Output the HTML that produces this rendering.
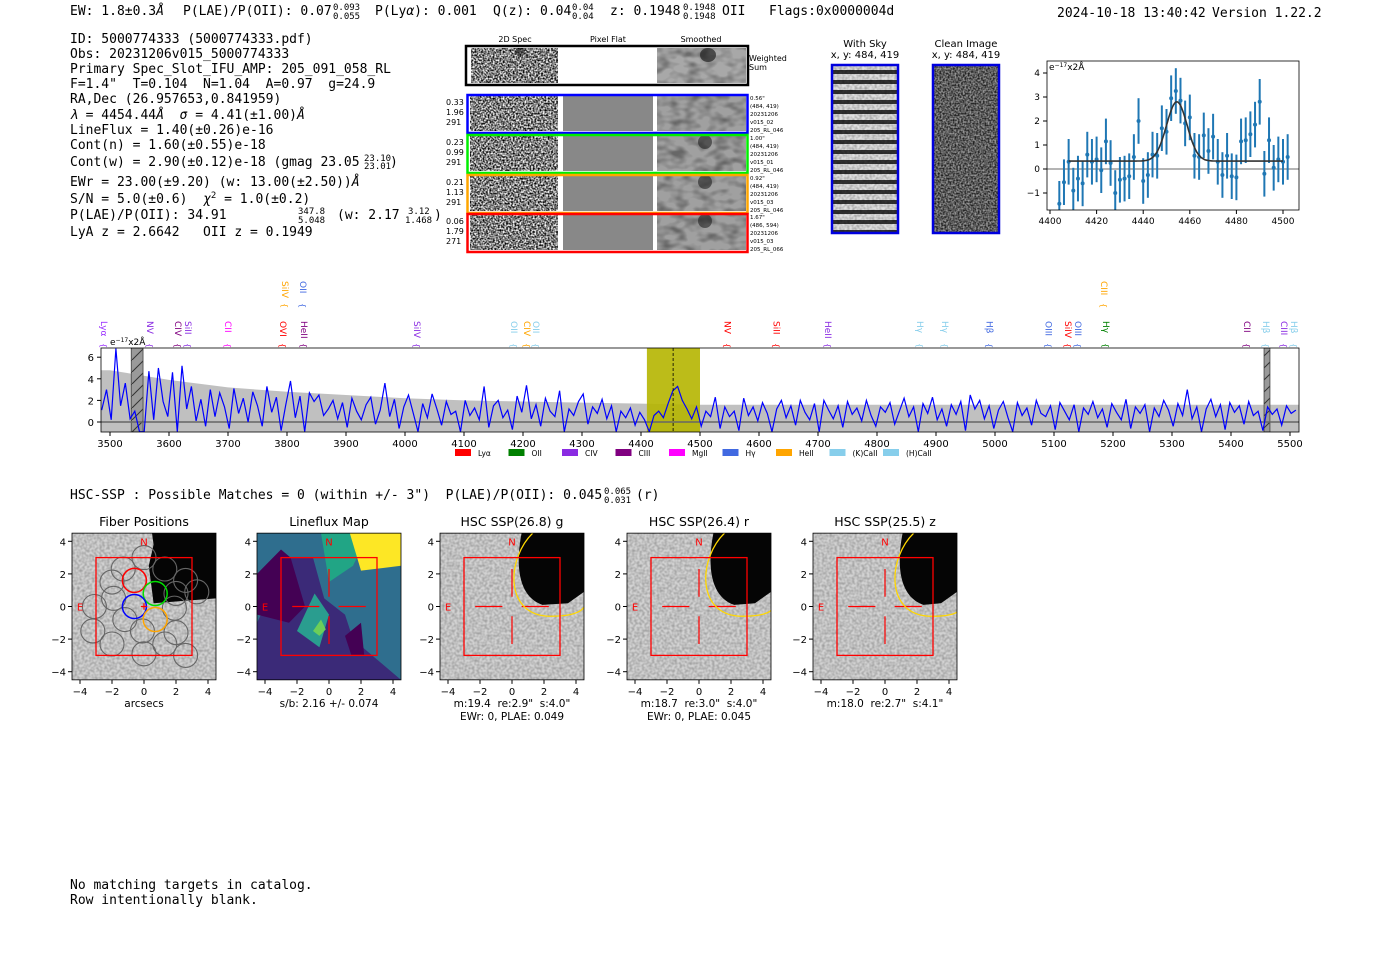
<!DOCTYPE html>
<html><head><meta charset="utf-8"><title>Detection report</title>
<style>
html,body{margin:0;padding:0;background:#fff;}
svg{display:block;}
.m{font-family:"DejaVu Sans Mono","Liberation Mono",monospace;font-size:13px;white-space:pre;}
.s{font-family:"DejaVu Sans","Liberation Sans",sans-serif;white-space:pre;}
</style></head>
<body>
<svg id="root" width="1400" height="953" viewBox="0 0 1400 953" xmlns="http://www.w3.org/2000/svg" xml:space="preserve">
<defs>
 <filter id="noise" x="0" y="0" width="100%" height="100%">
  <feTurbulence type="fractalNoise" baseFrequency="0.6" numOctaves="1" seed="3"/>
  <feColorMatrix type="matrix" values="0 0 0 0 0  0 0 0 0 0  0 0 0 0 0  0 0 0 -2.2 1.6"/>
 </filter>
 <filter id="noiseSoft" x="0" y="0" width="100%" height="100%">
  <feTurbulence type="fractalNoise" baseFrequency="0.07 0.12" numOctaves="2" seed="7"/>
  <feColorMatrix type="matrix" values="0 0 0 0 0  0 0 0 0 0  0 0 0 0 0  0 0 0 -2.5 1.5"/>
 </filter>
 <filter id="noiseLight" x="0" y="0" width="100%" height="100%">
  <feTurbulence type="fractalNoise" baseFrequency="0.4" numOctaves="1" seed="11"/>
  <feColorMatrix type="matrix" values="0 0 0 0 0  0 0 0 0 0  0 0 0 0 0  0 0 0 -1.1 0.75"/>
 </filter>
 <pattern id="hatch" width="12" height="12" patternUnits="userSpaceOnUse">
  <rect width="12" height="12" fill="#9a9a9a"/>
  <line x1="0" y1="12" x2="12" y2="0" stroke="#333" stroke-width="1"/>
 </pattern>
 <pattern id="stripes" width="68" height="10" patternUnits="userSpaceOnUse">
  <rect width="68" height="10" fill="#e0e0e0"/>
  <rect y="0" width="68" height="4" fill="#333"/>
 </pattern>
</defs>

<!-- header -->
<g>
 <text class="m" x="70" y="15">EW: 1.8±0.3<tspan font-style="italic">Å</tspan></text>
 <text class="m" x="183" y="15">P(LAE)/P(OII): 0.07</text>
 <text class="m" x="333" y="10" style="font-size:9px">0.093</text><text class="m" x="333" y="19" style="font-size:9px">0.055</text>
 <text class="m" x="375" y="15">P(Ly<tspan font-style="italic">α</tspan>): 0.001</text>
 <text class="m" x="493" y="15">Q(z): 0.04</text>
 <text class="m" x="572" y="10" style="font-size:9px">0.04</text><text class="m" x="572" y="19" style="font-size:9px">0.04</text>
 <text class="m" x="610" y="15">z: 0.1948</text>
 <text class="m" x="683" y="10" style="font-size:9px">0.1948</text><text class="m" x="683" y="19" style="font-size:9px">0.1948</text>
 <text class="m" x="722" y="15">OII</text>
 <text class="m" x="769" y="15">Flags:0x0000004d</text>
 <text class="m" x="1057" y="17">2024-10-18 13:40:42</text>
 <text class="m" x="1212" y="17">Version 1.22.2</text>
</g>

<!-- info block -->
<g>
 <text class="m" x="70" y="43">ID: 5000774333 (5000774333.pdf)</text>
 <text class="m" x="70" y="58">Obs: 20231206v015_5000774333</text>
 <text class="m" x="70" y="73">Primary Spec_Slot_IFU_AMP: 205_091_058_RL</text>
 <text class="m" x="70" y="88">F=1.4"  T=0.104  N=1.04  A=0.97  g=24.9</text>
 <text class="m" x="70" y="103">RA,Dec (26.957653,0.841959)</text>
 <text class="m" x="70" y="119"><tspan font-style="italic">λ</tspan> = 4454.44<tspan font-style="italic">Å</tspan>  <tspan font-style="italic">σ</tspan> = 4.41(±1.00)<tspan font-style="italic">Å</tspan></text>
 <text class="m" x="70" y="134">LineFlux = 1.40(±0.26)e-16</text>
 <text class="m" x="70" y="149">Cont(n) = 1.60(±0.55)e-18</text>
 <text class="m" x="70" y="166">Cont(w) = 2.90(±0.12)e-18 (gmag 23.05</text>
 <text class="m" x="364" y="161" style="font-size:9px">23.10</text><text class="m" x="364" y="169" style="font-size:9px">23.01</text>
 <text class="m" x="390" y="166">)</text>
 <text class="m" x="70" y="186">EWr = 23.00(±9.20) (w: 13.00(±2.50))<tspan font-style="italic">Å</tspan></text>
 <text class="m" x="70" y="203">S/N = 5.0(±0.6)  <tspan font-style="italic">χ</tspan><tspan style="font-size:9px" dy="-5">2</tspan><tspan dy="5"> = 1.0(±0.2)</tspan></text>
 <text class="m" x="70" y="219">P(LAE)/P(OII): 34.91</text>
 <text class="m" x="298" y="214" style="font-size:9px">347.8</text><text class="m" x="298" y="223" style="font-size:9px">5.048</text>
 <text class="m" x="337" y="219">(w: 2.17</text>
 <text class="m" x="408" y="214" style="font-size:9px">3.12</text><text class="m" x="405" y="223" style="font-size:9px">1.468</text>
 <text class="m" x="434" y="219">)</text>
 <text class="m" x="70" y="236">LyA z = 2.6642   OII z = 0.1949</text>
</g>

<!-- 2D spectra cutouts -->
<g>
 <text class="s" x="515" y="42" font-size="8" text-anchor="middle">2D Spec</text>
 <text class="s" x="608" y="42" font-size="8" text-anchor="middle">Pixel Flat</text>
 <text class="s" x="701" y="42" font-size="8" text-anchor="middle">Smoothed</text>
 <g>
  <rect x="466" y="46" width="282" height="39" fill="#fff" stroke="#000" stroke-width="2.5"/>
  <rect x="471" y="48" width="87" height="35" fill="#888" filter="url(#noise)"/>
  <rect x="657" y="48" width="89" height="35" fill="#a8a8a8"/>
  <rect x="657" y="48" width="89" height="35" fill="#777" filter="url(#noiseSoft)" opacity="0.35"/>
  <ellipse cx="708" cy="55" rx="8" ry="7" fill="#222" opacity="0.7"/>
  <ellipse cx="520" cy="52" rx="5" ry="4" fill="#111" opacity="0.5"/>
  <text class="s" x="749" y="61" font-size="8">Weighted</text><text class="s" x="749" y="70" font-size="8">Sum</text>
 </g>
 <g id="rows"></g>
</g>

<!-- sky cutouts -->
<g>
 <text class="s" x="865" y="47" font-size="10" text-anchor="middle">With Sky</text>
 <text class="s" x="865" y="58" font-size="10" text-anchor="middle">x, y: 484, 419</text>
 <rect x="831" y="64" width="68" height="170" fill="url(#stripes)"/>
 <rect x="831" y="64" width="68" height="170" fill="#777" filter="url(#noiseLight)" opacity="0.5"/>
 <rect x="832" y="65" width="66" height="168" fill="none" stroke="#0000dd" stroke-width="2.5"/>
</g>
<g>
 <text class="s" x="966" y="47" font-size="10" text-anchor="middle">Clean Image</text>
 <text class="s" x="966" y="58" font-size="10" text-anchor="middle">x, y: 484, 419</text>
 <rect x="932" y="64" width="68" height="170" fill="#999"/>
 <rect x="932" y="64" width="68" height="170" fill="#888" filter="url(#noise)" opacity="0.8"/>
 <rect x="933" y="65" width="66" height="168" fill="none" stroke="#0000dd" stroke-width="2.5"/>
</g>

<g id="zoomfit"></g>
<g id="spectrum"></g>

<text class="m" x="70" y="499">HSC-SSP : Possible Matches = 0 (within +/- 3")  P(LAE)/P(OII): 0.045</text>
<text class="m" x="604" y="494" style="font-size:9px">0.065</text><text class="m" x="604" y="503" style="font-size:9px">0.031</text>
<text class="m" x="636" y="499">(r)</text>

<g id="panels"></g>

<g>
 <text class="m" x="70" y="889">No matching targets in catalog.</text>
 <text class="m" x="70" y="904">Row intentionally blank.</text>
</g>
</svg>

<script>
// ===== Line-fit chart data =====
const fitWaves = [4404,4406,4408,4410,4412,4414,4416,4418,4420,4422,4424,4426,4428,4430,4432,4434,4436,4438,4440,4442,4444,4446,4448,4450,4452,4454,4456,4458,4460,4462,4464,4466,4468,4470,4472,4474,4476,4478,4480,4482,4484,4486,4488,4490,4492,4494,4496,4498,4500,4502];
const fitFlux = [-1.45,-0.55,0.3,-0.9,-0.4,-0.6,0.6,0.3,0.4,-0.05,1.15,0.25,-1.0,-0.45,-0.4,-0.3,0.5,2.0,-0.5,-0.25,0.6,0.55,1.7,1.55,2.95,3.25,2.85,1.9,2.15,0.55,0.5,1.4,0.75,1.35,0.3,-0.25,0.55,-0.3,-0.35,1.15,1.2,1.45,1.85,2.8,-0.2,1.2,0.05,0.4,0.3,0.5];
const fitErr = [0.95,0.95,0.95,0.95,0.95,0.95,0.95,0.95,0.95,0.95,0.95,0.95,0.95,0.95,0.95,0.95,0.95,0.95,0.95,0.95,0.95,0.95,0.95,0.95,0.95,0.95,0.95,0.95,0.95,0.95,0.95,0.95,0.95,0.95,0.95,0.95,0.95,0.95,0.95,0.95,0.95,0.95,0.95,0.95,0.95,0.95,0.95,0.95,0.95,0.95];
const fitModel = [0.33, 2.47, 4454.44, 4.41]; // continuum, amplitude, center, sigma
const fitXTicks = [4400,4420,4440,4460,4480,4500];
const fitYTicks = [-1,0,1,2,3,4];

// ===== Full spectrum data =====
const specStart = 3486, specStep = 8;
const specFlux = [
1.1,3.0,0.2,6.8,1.5,3.6,0.3,1.0,-0.9,-0.9,
4.7,0.2,5.0,1.9,0.5,4.6,-0.9,5.2,1.2,3.3,
0.1,2.1,-0.4,3.0,0.5,2.7,1.4,-0.6,3.1,0.8,
2.2,0.0,2.8,1.5,-0.4,3.3,0.9,2.3,-0.8,1.6,
3.8,0.4,2.4,-0.9,2.7,1.9,2.5,0.6,1.2,2.0,
0.3,1.8,-0.5,2.2,1.0,0.2,1.6,2.3,-0.2,1.1,
3.6,0.5,2.1,-0.6,1.4,2.5,0.8,-0.9,1.7,0.4,
2.6,1.2,-0.3,1.9,0.7,1.0,-0.9,2.0,0.6,1.3,
0.2,3.3,-0.5,1.5,2.0,0.4,1.1,-0.7,2.4,0.9,
3.4,0.3,1.6,-0.4,2.2,1.0,0.5,2.9,-0.9,1.2,
0.6,1.9,2.6,-0.2,1.4,0.8,2.1,0.3,1.5,-0.9,
1.0,0.4,1.3,-0.3,0.9,0.2,-0.9,0.6,1.0,0.4,
1.7,2.9,3.3,2.0,1.2,0.3,1.4,-0.4,1.0,0.5,
2.3,-0.6,1.4,0.5,1.0,-0.8,2.2,0.6,1.4,0.1,
1.8,0.8,-0.9,1.2,2.0,0.4,1.5,-0.3,2.0,0.9,
0.2,1.7,-0.9,2.0,1.1,0.3,1.5,-0.5,1.9,0.7,
1.3,0.1,2.0,0.6,-0.4,1.4,0.9,1.8,-0.2,1.0,
2.2,0.5,1.4,-0.9,1.7,0.8,2.3,0.2,1.2,-0.4,
1.6,0.7,1.9,-0.8,2.5,1.2,2.0,0.3,1.5,-0.6,
1.1,1.9,0.4,-0.9,1.8,0.6,1.3,-0.3,2.0,0.8,
0.5,1.5,-0.7,1.8,1.0,0.2,1.6,-0.9,1.3,0.7,
1.9,0.4,1.2,-0.5,1.7,0.9,0.2,2.1,-0.6,1.4,
0.8,1.6,-0.9,1.3,0.5,2.0,1.1,-0.4,1.7,0.6,
3.0,0.3,1.4,-0.9,1.2,2.1,0.5,1.6,-0.7,1.8,
0.9,1.5,-0.2,1.9,0.6,1.0,-0.8,1.4,0.7,1.2,
-0.3,1.5,0.8,1.1];
const errWaves = [3485,3500,3600,3700,3800,3900,4000,4100,4200,4300,4400,4500,4600,4700,4800,4900,5000,5100,5200,5300,5400,5515];
const errUpper = [4.8,4.8,3.9,3.2,2.8,2.5,2.2,2.0,1.9,1.8,1.7,1.6,1.6,1.6,1.6,1.6,1.6,1.6,1.6,1.6,1.6,1.6];
const specXTicks = [3500,3600,3700,3800,3900,4000,4100,4200,4300,4400,4500,4600,4700,4800,4900,5000,5100,5200,5300,5400,5500];
const specYTicks = [0,2,4,6];
const maskedRanges = [[3536,3556],[5456,5466]];
const fitWindow = [4410,4500];
const lineCenter = 4454.44;
const lineNames = ["Lyα","NV","CIV","SiII","CII","OVI","HeII","SiIV","OII","SiIV","OII","CIV","OII","NV","SiII","HeII","Hγ","Hγ","Hβ","OIII","SiIV","OIII","Hγ","CIII","CII","Hβ","CIII","Hβ"];
const lineWaves = [3490,3568,3615,3632,3700,3793,3829,3797,3827,4020,4185,4207,4222,4547,4630,4717,4873,4915,4991,5091,5124,5141,5188,5185,5427,5459,5490,5507];
const lineColors = ["#9b30ff","#8a2be2","#800080","#8a2be2","#ff00ff","#ff0000","#800080","#ffa500","#4169e1","#8a2be2","#87ceeb","#ffa500","#87ceeb","#ff0000","#ff0000","#8a2be2","#87ceeb","#87ceeb","#4169e1","#4169e1","#ff0000","#4169e1","#008000","#ffa500","#800080","#87ceeb","#8a2be2","#87ceeb"];
const lineTier = [0,0,0,0,0,0,0,1,1,0,0,0,0,0,0,0,0,0,0,0,0,0,0,1,0,0,0,0];
const legendNames = ["Lyα","OII","CIV","CIII","MgII","Hγ","HeII","(K)CaII","(H)CaII"];
const legendColors = ["#ff0000","#008000","#8a2be2","#800080","#ff00ff","#4169e1","#ffa500","#87ceeb","#87ceeb"];

const NS = "http://www.w3.org/2000/svg";
function mk(tag, attrs, parent){ const e=document.createElementNS(NS,tag); for(const k in attrs) e.setAttribute(k,attrs[k]); if(parent) parent.appendChild(e); return e; }
function txt(s, attrs, parent){ const e=mk('text',attrs,parent); e.textContent=s; return e; }

// ===== 2D spec rows =====
(function(){
  const rows=document.getElementById('rows');
  const colors=["#0000ff","#00ee00","#ffa500","#ff0000"];
  const left=[["0.33","1.96","291"],["0.23","0.99","291"],["0.21","1.13","291"],["0.06","1.79","271"]];
  const right=[["0.56\"","(484, 419)","20231206","v015_02","205_RL_046"],["1.00\"","(484, 419)","20231206","v015_01","205_RL_046"],["0.92\"","(484, 419)","20231206","v015_03","205_RL_046"],["1.67\"","(486, 594)","20231206","v015_03","205_RL_066"]];
  const ys=[94,134,174,213];
  for(let i=0;i<4;i++){
    const g=mk('g',{},rows);
    
    
    const y=ys[i];
    mk('rect',{x:470,y:y+2,width:88,height:35,fill:'#888',filter:'url(#noise)'},g);
    mk('rect',{x:563,y:y+2,width:90,height:35,fill:'#888'},g);
    mk('rect',{x:657,y:y+2,width:89,height:35,fill:'#a0a0a0'},g);
    mk('rect',{x:657,y:y+2,width:89,height:35,fill:'#666',filter:'url(#noiseSoft)',opacity:0.35},g);
    if(i>0) mk('ellipse',{cx:705,cy:y+8,rx:7,ry:7,fill:'#222',opacity:0.6},g);
    mk('rect',{x:467.5,y:y+1,width:280,height:38,fill:'none',stroke:colors[i],'stroke-width':2.5},g);
    for(let k=0;k<3;k++) txt(left[i][k],{x:446,y:y+11+k*10,'font-size':8,class:'s'},g);
    for(let k=0;k<5;k++) txt(right[i][k],{x:750,y:y+6+k*8,'font-size':5.5,class:'s'},g);
  }
})();

// ===== Line-fit chart =====
(function(){
  const g=document.getElementById('zoomfit');
  const L=1047,R=1299,T=61,B=210;
  const xs=w=>1050+(w-4400)*2.33;
  const ys=v=>169-v*24;
  const clip=mk('clipPath',{id:'fitclip'},g); mk('rect',{x:L,y:T,width:R-L,height:B-T},clip);
  const zl=mk('line',{x1:L,x2:R,y1:ys(0),y2:ys(0),stroke:'#888','stroke-width':1.2},g);
  
  const pg=mk('g',{'clip-path':'url(#fitclip)'},g);
  for(let i=0;i<fitWaves.length;i++){
    const x=xs(fitWaves[i]);
    const eb=mk('line',{x1:x,x2:x,y1:ys(fitFlux[i]-fitErr[i]),y2:ys(fitFlux[i]+fitErr[i]),stroke:'#1f77b4','stroke-width':2},pg);
    
    const pt=mk('circle',{cx:x,cy:ys(fitFlux[i]),r:2,fill:'#1f77b4'},pg);
    
  }
  let d='';
  for(let w=4408;w<=4500;w+=0.5){
    const v=fitModel[0]+fitModel[1]*Math.exp(-0.5*Math.pow((w-fitModel[2])/fitModel[3],2));
    d+=(d?'L':'M')+xs(w).toFixed(1)+','+ys(v).toFixed(1);
  }
  const fl=mk('path',{d:d,fill:'none',stroke:'#333','stroke-width':1.6},pg);
  
  mk('rect',{x:L,y:T,width:R-L,height:B-T,fill:'none',stroke:'#000','stroke-width':0.8},g);
  fitXTicks.forEach(t=>{const x=xs(t); mk('line',{x1:x,x2:x,y1:B,y2:B+4,stroke:'#000'},g);
    const tl=txt(t,{x:x,y:B+14,'font-size':9,'text-anchor':'middle',class:'s'},g); });
  fitYTicks.forEach(t=>{const y=ys(t); mk('line',{x1:L-4,x2:L,y1:y,y2:y,stroke:'#000'},g);
    const tl=txt(t<0?'−'+(-t):t,{x:L-7,y:y+3,'font-size':9,'text-anchor':'end',class:'s'},g); });
  const u=txt('e',{x:L+2,y:T+9,'font-size':9,class:'s'},g); 
  mk('tspan',{dy:-3,'font-size':6},u).textContent='−17';
  mk('tspan',{dy:3},u).textContent='x2Å';
})();

// ===== Full spectrum =====
(function(){
  const g=document.getElementById('spectrum');
  const L=101,R=1299,T=348,B=432;
  const xs=w=>110+(w-3500)*0.59;
  const ys=v=>422-v*10.8;
  const clip=mk('clipPath',{id:'specclip'},g); mk('rect',{x:L,y:T,width:R-L,height:B-T},clip);
  const cg=mk('g',{'clip-path':'url(#specclip)'},g);
  let d='M'+xs(errWaves[0])+','+B;
  for(let i=0;i<errWaves.length;i++) d+='L'+xs(errWaves[i]).toFixed(1)+','+ys(errUpper[i]).toFixed(1);
  d+='L'+xs(errWaves[errWaves.length-1])+','+B+'Z';
  const band=mk('path',{d:d,fill:'#c0c0c0'},cg); 
  const fw=mk('rect',{x:xs(fitWindow[0]),y:T,width:xs(fitWindow[1])-xs(fitWindow[0]),height:B-T,fill:'#b5b500',opacity:0.9},cg);
  
  maskedRanges.forEach(r=>{const m=mk('rect',{x:xs(r[0]),y:T,width:xs(r[1])-xs(r[0]),height:B-T,fill:'url(#hatch)',stroke:'#444','stroke-width':0.8},cg);
    });
  const z=mk('line',{x1:L,x2:R,y1:ys(0),y2:ys(0),stroke:'#666','stroke-width':1.5},cg); 
  let p='';
  for(let i=0;i<specFlux.length;i++) p+=(i?'L':'M')+xs(specStart+i*specStep).toFixed(1)+','+ys(specFlux[i]).toFixed(1);
  const fl=mk('path',{d:p,fill:'none',stroke:'#0000ff','stroke-width':1.2},cg); 
  const cl=mk('line',{x1:xs(lineCenter),x2:xs(lineCenter),y1:T,y2:B,stroke:'#000','stroke-dasharray':'3,2','stroke-width':0.8},cg);
  
  mk('rect',{x:L,y:T,width:R-L,height:B-T,fill:'none',stroke:'#000','stroke-width':0.8},g);
  specXTicks.forEach(t=>{const x=xs(t); mk('line',{x1:x,x2:x,y1:B,y2:B+4,stroke:'#000'},g);
    const tl=txt(t,{x:x,y:B+15,'font-size':10,'text-anchor':'middle',class:'s'},g); });
  specYTicks.forEach(t=>{const y=ys(t); mk('line',{x1:L-4,x2:L,y1:y,y2:y,stroke:'#000'},g);
    const tl=txt(t,{x:L-7,y:y+4,'font-size':10,'text-anchor':'end',class:'s'},g); });
  const u=txt('e',{x:110,y:345,'font-size':9,class:'s'},g); 
  mk('tspan',{dy:-3,'font-size':6},u).textContent='−17';
  mk('tspan',{dy:3},u).textContent='x2Å';
  for(let i=0;i<lineNames.length;i++){
    const x=xs(lineWaves[i]);
    const top = lineTier[i] ? 281 : 321;
    const lb=txt(lineNames[i],{x:0,y:0,'font-size':9,fill:lineColors[i],class:'s',transform:`translate(${x-3},${top}) rotate(90)`},g);
    
    const br=txt('{',{x:0,y:0,'font-size':8,fill:lineColors[i],class:'s',transform:`translate(${x-3},${top+22}) rotate(90)`},g);
    
  }
  let lx=455;
  for(let i=0;i<legendNames.length;i++){
    const sw=mk('rect',{x:lx,y:449,width:16,height:7,fill:legendColors[i]},g); 
    const lt=txt(legendNames[i],{x:lx+23,y:456,'font-size':7.5,class:'s'},g); 
    lx+=53.5;
  }
})();

// ===== Imaging panels =====
(function(){
  const root=document.getElementById('panels');
  const centers=[144,329,512,699,885];
  const titles=["Fiber Positions","Lineflux Map","HSC SSP(26.8) g","HSC SSP(26.4) r","HSC SSP(25.5) z"];
  const sub1=["arcsecs","s/b: 2.16 +/- 0.074","m:19.4  re:2.9\"  s:4.0\"","m:18.7  re:3.0\"  s:4.0\"","m:18.0  re:2.7\"  s:4.1\""];
  const sub2=["","","EWr: 0, PLAE: 0.049","EWr: 0, PLAE: 0.045",""];
  const blackShift=[0.4,0,0.4,0.7,0.9];
  const cy0=606.5, sx=16, sy=16.3;
  centers.forEach((cx,pi)=>{
    const g=mk('g',{},root);
    
    
    const X=v=>cx+v*sx, Y=v=>cy0-v*sy;
    const L=X(-4.5),T=Y(4.5),W=9*sx,H=9*sy;
    const cid='pc'+pi; const c=mk('clipPath',{id:cid},g); mk('rect',{x:L,y:T,width:W,height:H},c);
    const ig=mk('g',{'clip-path':`url(#${cid})`},g);
    if(pi===1){
      mk('rect',{x:L,y:T,width:W,height:H,fill:'#2f6e8e'},ig);
      mk('polygon',{points:[[-4.5,-1],[-2.5,3],[-1,3],[-0.3,0.5],[1,-0.5],[1.5,-2],[4.5,-4.5],[-4.5,-4.5]].map(p=>X(p[0])+','+Y(p[1])).join(' '),fill:'#3b2a78'},ig);
      mk('polygon',{points:[[-4.5,2],[-3,3.5],[-2.4,3],[-1.5,0],[-2.5,-1],[-4.5,-0.5]].map(p=>X(p[0])+','+Y(p[1])).join(' '),fill:'#440154'},ig);
      mk('polygon',{points:[[-2,-1.5],[-0.9,0.8],[0,-0.5],[-0.6,-2.5]].map(p=>X(p[0])+','+Y(p[1])).join(' '),fill:'#2a9d8f'},ig);
      mk('polygon',{points:[[-1,-1.5],[-0.5,-0.8],[-0.2,-1.4],[-0.6,-1.8]].map(p=>X(p[0])+','+Y(p[1])).join(' '),fill:'#6cce59'},ig);
      mk('polygon',{points:[[0,1.5],[1.5,2.5],[2.5,4.5],[-0.5,4.5]].map(p=>X(p[0])+','+Y(p[1])).join(' '),fill:'#21a585'},ig);
      mk('polygon',{points:[[1.3,4.5],[2,2.2],[4.5,2.5],[4.5,4.5]].map(p=>X(p[0])+','+Y(p[1])).join(' '),fill:'#fde725'},ig);
      mk('polygon',{points:[[1,-1.8],[2,-1],[2.2,-3],[1.4,-3]].map(p=>X(p[0])+','+Y(p[1])).join(' '),fill:'#440154'},ig);
    } else {
      mk('rect',{x:L,y:T,width:W,height:H,fill:'#d2d2d2'},ig);
      mk('rect',{x:L,y:T,width:W,height:H,fill:'#888',filter:'url(#noiseLight)',opacity:0.45},ig);
      const s=blackShift[pi];
      let d;
      if(pi===0){
        d=`M${X(0.5)},${Y(4.5)} L${X(0.6)},${Y(3.8)} L${X(0.3)},${Y(2.5)} L${X(0.6)},${Y(0.2)} L${X(4.5)},${Y(0.5)} L${X(4.5)},${Y(4.5)} Z`;
      } else {
        d=`M${X(s+0.2)},${Y(4.5)} C${X(s-0.2)},${Y(2.5)} ${X(s)},${Y(0.6)} ${X(s+1.5)},${Y(0.1)} L${X(3.5)},${Y(0.2)} L${X(4.5)},${Y(0.9)} L${X(4.5)},${Y(4.5)} Z`;
      }
      const b=mk('path',{d:d,fill:'#050505'},ig); 
    }
    if(pi===0){
      const fibers=[[0,3],[-1.3,2.3],[1.3,2.3],[2.6,1.6],[-2,1.5],[-1.9,0.5],[2,0.8],[3.3,0.9],[-3.1,0],[1.9,-0.1],[-1.2,-0.8],[-3.2,-1.5],[-0.1,-1.5],[2,-1.6],[-2,-2.3],[1.3,-2.3],[0,-2.9],[2.6,-3]];
      fibers.forEach(f=>{const c=mk('circle',{cx:X(f[0]),cy:Y(f[1]),r:0.75*sx,fill:'none',stroke:'#666','stroke-width':1.1},ig); });
      [[-0.6,1.6,'#ff0000'],[0.7,0.8,'#00dd00'],[-0.6,0,'#0000ff'],[0.7,-0.8,'#ffa500']].forEach(f=>{
        const c=mk('circle',{cx:X(f[0]),cy:Y(f[1]),r:0.75*sx,fill:'none',stroke:f[2],'stroke-width':1.5},ig); });
      mk('path',{d:`M${X(-0.2)},${Y(0)}h${0.4*sx}M${X(0)},${Y(0.2)}v${0.4*sy}`,stroke:'#f00','stroke-width':1.2},ig);
    } else {
      const ch=mk('path',{d:`M${X(-2.3)},${Y(0)}H${X(-0.6)}M${X(0.6)},${Y(0)}H${X(2.3)}M${X(0)},${Y(2.3)}V${Y(0.6)}M${X(0)},${Y(-0.6)}V${Y(-2.3)}`,stroke:'#f00','stroke-width':1.2},ig);
      
    }
    if(pi>=2){
      const s=blackShift[pi];
      const e=mk('path',{d:`M${X(s+1)},${Y(4.6)} C${X(s-0.8)},${Y(3)} ${X(s-0.9)},${Y(-0.6)} ${X(s+2)},${Y(-0.6)} S${X(4.5)},${Y(0.6)} ${X(4.6)},${Y(0.8)}`,fill:'none',stroke:'#ffd700','stroke-width':1.3},ig);
      
    }
    const box=mk('rect',{x:X(-3),y:Y(3),width:6*sx,height:6*sy,fill:'none',stroke:'#f00','stroke-width':1.3},ig);
    
    txt('N',{x:X(0),y:Y(4)+4,'font-size':10,fill:'#f00','text-anchor':'middle',class:'s'},ig);
    txt('E',{x:X(-4),y:Y(0)+4,'font-size':10,fill:'#f00','text-anchor':'middle',class:'s'},ig);
    mk('rect',{x:L,y:T,width:W,height:H,fill:'none',stroke:'#000','stroke-width':0.8},g);
    const tt=txt(titles[pi],{x:cx,y:526,'font-size':12.5,'text-anchor':'middle',class:'s'},g); 
    [-4,-2,0,2,4].forEach(t=>{
      mk('line',{x1:X(t),x2:X(t),y1:T+H,y2:T+H+4,stroke:'#000'},g);
      const xl=txt(t<0?'−'+(-t):t,{x:X(t),y:T+H+15,'font-size':10,'text-anchor':'middle',class:'s'},g); 
      mk('line',{x1:L-4,x2:L,y1:Y(t),y2:Y(t),stroke:'#000'},g);
      const yl=txt(t<0?'−'+(-t):t,{x:L-6,y:Y(t)+4,'font-size':10,'text-anchor':'end',class:'s'},g); 
    });
    txt(sub1[pi],{x:cx,y:707,'font-size':10.5,'text-anchor':'middle',class:'s'},g);
    if(sub2[pi]) txt(sub2[pi],{x:cx,y:720,'font-size':10.5,'text-anchor':'middle',class:'s'},g);
  });
})();
</script>
</body></html>
